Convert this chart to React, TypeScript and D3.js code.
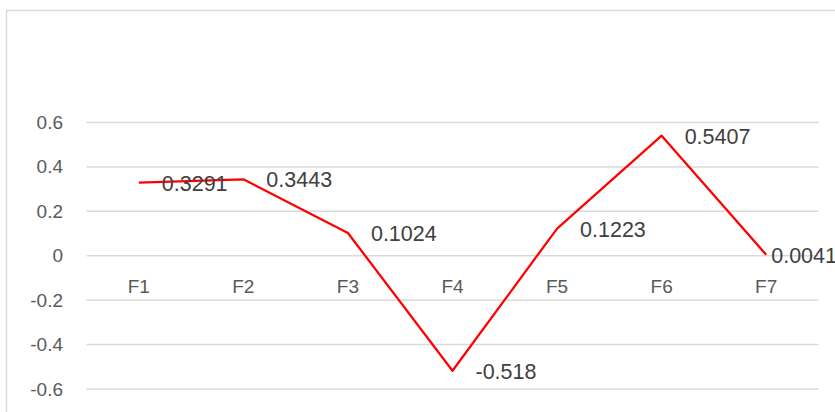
import React from "react";
import * as d3 from "d3";

const categories = ["F1", "F2", "F3", "F4", "F5", "F6", "F7"];
const values = [0.3291, 0.3443, 0.1024, -0.518, 0.1223, 0.5407, 0.0041];
const valueLabels = ["0.3291", "0.3443", "0.1024", "-0.518", "0.1223", "0.5407", "0.0041"];
const yTicks = [0.6, 0.4, 0.2, 0, -0.2, -0.4, -0.6];
const yTickLabels = ["0.6", "0.4", "0.2", "0", "-0.2", "-0.4", "-0.6"];

const W = 835;
const H = 412;
const FONT = "'Liberation Sans', Arial, sans-serif";

export default function App() {
  const x = d3.scaleBand<string>().domain(categories).range([86.5, 818.5]);
  const y = d3.scaleLinear().domain([-0.6, 0.6]).range([389, 122.5]);
  const cx = (c: string) => (x(c) as number) + x.bandwidth() / 2;
  const line = d3
    .line<number>()
    .x((_, i) => cx(categories[i]))
    .y((d) => y(d));

  return (
    <svg
      width={W}
      height={H}
      style={{ position: "absolute", left: 0, top: 0, background: "#fff" }}
    >
      <rect x={6.5} y={10.5} width={W + 20} height={H + 20} fill="#fff" stroke="#d9d9d9" strokeWidth={1.5} />
      {yTicks.map((t, i) => (
        <g key={t}>
          <line x1={x.range()[0]} x2={x.range()[1]} y1={y(t)} y2={y(t)} stroke="#d9d9d9" strokeWidth={1.5} />
          <text
            x={63}
            y={y(t)}
            textAnchor="end"
            dominantBaseline="central"
            fontFamily={FONT}
            fontSize={19}
            fill="#595959"
          >
            {yTickLabels[i]}
          </text>
        </g>
      ))}
      {categories.map((c) => (
        <text
          key={c}
          x={cx(c)}
          y={y(0) + 31}
          textAnchor="middle"
          dominantBaseline="central"
          fontFamily={FONT}
          fontSize={19}
          fill="#595959"
        >
          {c}
        </text>
      ))}
      <path d={line(values) || ""} fill="none" stroke="#ff0000" strokeWidth={2.25} strokeLinejoin="round" />
      {values.map((v, i) => (
        <text
          key={i}
          x={cx(categories[i]) + (i === values.length - 1 ? 5 : 23)}
          y={y(v) + 1}
          dominantBaseline="central"
          fontFamily={FONT}
          fontSize={21.5}
          fill="#404040"
        >
          {valueLabels[i]}
        </text>
      ))}
    </svg>
  );
}
